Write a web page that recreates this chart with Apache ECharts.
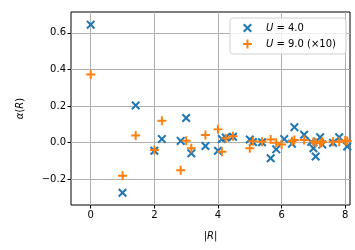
<!DOCTYPE html>
<html>
<head>
<meta charset="utf-8">
<script src="https://cdn.jsdelivr.net/npm/echarts@6/dist/echarts.min.js"></script>
<style>html,body{margin:0;padding:0;background:#fff}#c{width:355px;height:250px}</style>
</head>
<body>
<div id="c"></div>
<script>
var seriesNames = ['U = 4.0', 'U = 9.0 (×10)'];
var xTicks = [0, 2, 4, 6, 8];
var yTicks = [-0.2, 0.0, 0.2, 0.4, 0.6];
var u4 = [[0,0.645],[1,-0.273],[1.414,0.204],[2,-0.044],[2.236,0.02],[2.828,0.01],[3,0.135],[3.162,-0.058],[3.606,-0.018],[4,-0.044],[4.123,0.02],[4.243,0.028],[4.472,0.033],[5,0.018],[5.099,0.004],[5.385,0.003],[5.657,-0.085],[5.831,-0.036],[6.083,0.02],[6.325,-0.005],[6.403,0.085],[6.708,0.044],[6.93,0.005],[7,-0.03],[7.071,-0.075],[7.211,0.03],[7.28,-0.01],[7.616,0.0],[7.81,0.03],[8.062,-0.02]];
var u9 = [[0,0.373],[1,-0.18],[1.414,0.04],[2,-0.04],[2.236,0.12],[2.828,-0.15],[3,0.011],[3.162,-0.03],[3.606,0.042],[4,0.073],[4.123,-0.049],[4.243,0.024],[4.472,0.036],[5,-0.03],[5.099,0.008],[5.385,0.005],[5.657,0.018],[5.831,0.0],[6,-0.01],[6.325,0.008],[6.403,0.015],[6.708,0.015],[7,0.005],[7.071,0.0],[7.211,-0.003],[7.28,0.005],[7.616,0.005],[7.81,0.005],[8,0.012],[8.062,0.01]];

var X_PATH = 'path://M0,1.6 L1.6,0 L5,3.4 L8.4,0 L10,1.6 L6.6,5 L10,8.4 L8.4,10 L5,6.6 L1.6,10 L0,8.4 L3.4,5 Z';
var P_PATH = 'path://M3.9,0 H6.1 V3.9 H10 V6.1 H6.1 V10 H3.9 V6.1 H0 V3.9 H3.9 Z';
var FONT = 'DejaVu Sans';
function fmt(v){ var s = v.toFixed(1); return v < 0 ? '\u2212' + s.slice(1) : s; }

var chart = echarts.init(document.getElementById('c'), null, {renderer:'canvas'});
chart.setOption({
  animation: false,
  textStyle: {fontFamily: FONT},
  grid: {left: 71, right: 5, top: 12, bottom: 45, show: true, borderColor: '#000', borderWidth: 1, backgroundColor: 'transparent'},
  legend: {
    orient: 'vertical', right: 9, top: 18,
    padding: [5, 10, 5, 13], itemGap: 6, itemWidth: 9, itemHeight: 9,
    backgroundColor: 'rgba(255,255,255,0.8)', borderColor: '#d0d0d0', borderWidth: 1, borderRadius: 3,
    data: [{name: seriesNames[0], icon: X_PATH}, {name: seriesNames[1], icon: P_PATH}],
    formatter: function(n){ return '{i|U}' + n.slice(1); },
    textStyle: {fontFamily: FONT, fontSize: 10, color: '#000', padding: [0,0,0,9], rich: {i: {fontStyle: 'italic', fontFamily: FONT, fontSize: 10}}}
  },
  xAxis: {
    type: 'value', min: -0.62, max: 8.15,
    name: '|{i|R}|', nameLocation: 'middle', nameGap: 26,
    nameTextStyle: {fontFamily: FONT, fontSize: 10, color: '#000', rich: {i: {fontStyle: 'italic', fontFamily: FONT, fontSize: 10}}},
    axisLine: {show: false, onZero: false},
    axisTick: {show: true, inside: false, length: 3.5, lineStyle: {color: '#000'}, customValues: xTicks},
    axisLabel: {customValues: xTicks, color: '#000', fontSize: 10, fontFamily: FONT, margin: 5, formatter: function(v){return String(v);}},
    splitLine: {show: true, lineStyle: {color: '#b0b0b0', width: 1}}
  },
  yAxis: {
    type: 'value', min: -0.34, max: 0.714,
    name: '{i|α}({i|R})', nameLocation: 'middle', nameGap: 46, nameRotate: 90,
    nameTextStyle: {fontFamily: FONT, fontSize: 10, color: '#000', rich: {i: {fontStyle: 'italic', fontFamily: FONT, fontSize: 10}}},
    axisLine: {show: false, onZero: false},
    axisTick: {show: true, inside: false, length: 3.5, lineStyle: {color: '#000'}, customValues: yTicks},
    axisLabel: {customValues: yTicks, color: '#000', fontSize: 10, fontFamily: FONT, margin: 5, formatter: fmt},
    splitLine: {show: true, lineStyle: {color: '#b0b0b0', width: 1}}
  },
  series: [
    {name: seriesNames[0], type: 'scatter', data: u4, symbol: X_PATH, symbolSize: 9, itemStyle: {color: '#1f77b4', opacity: 1}},
    {name: seriesNames[1], type: 'scatter', data: u9, symbol: P_PATH, symbolSize: 9, itemStyle: {color: '#ff7f0e', opacity: 1}}
  ]
});
</script>
</body>
</html>
